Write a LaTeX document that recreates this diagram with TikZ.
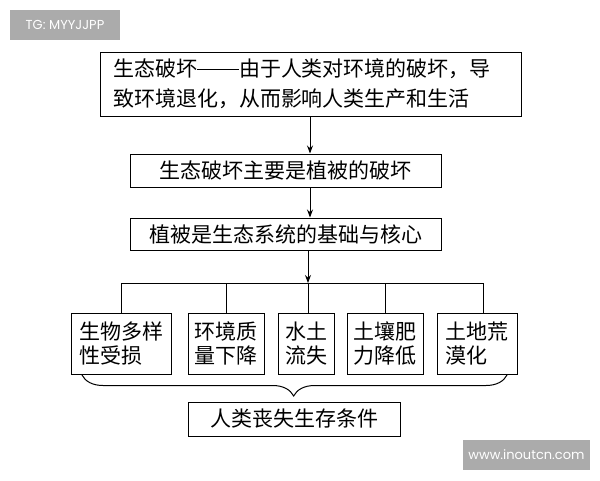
\documentclass[tikz,border=0pt]{standalone}
\usepackage{fontspec}
\setmainfont{Noto Sans CJK SC}
\newfontfamily\wmfont{Poppins}
\usetikzlibrary{arrows.meta,decorations.pathreplacing}
\newcommand{\mydash}{\rule[0.32em]{2em}{0.06em}}
\begin{document}
\begin{tikzpicture}[x=1pt,y=-1pt,
  box/.style={draw,line width=1pt,inner sep=0pt,align=left,font=\fontsize{21}{30}\selectfont},
  small/.style={box,font=\fontsize{21}{23.5}\selectfont},
  conn/.style={line width=1pt},
  arr/.style={conn,-{Stealth[length=8pt,width=6pt]}},
  wm/.style={fill=black!33,text=white,inner sep=0pt,font=\wmfont\fontsize{13}{14}\selectfont}]
\useasboundingbox[fill=white] (0,0) rectangle (600,480);
% watermarks
\node[wm,minimum width=110,minimum height=30] (wm1) at (65,25) {TG: MYYJJPP};
\node[wm,minimum width=127,minimum height=30] (wm2) at (526.5,455) {www.inoutcn.com};
% boxes
\node[box,minimum width=421,minimum height=64,text width=395] (top) at (310.5,84)
  {生态破坏\mydash 由于人类对环境的破坏，导\\致环境退化，从而影响人类生产和生活};
\node[box,minimum width=311,minimum height=33] (b2) at (285.5,170.5) {生态破坏主要是植被的破坏};
\node[box,minimum width=311,minimum height=32] (b3) at (285.5,234) {植被是生态系统的基础与核心};
\node[small,minimum width=100,minimum height=61] (c1) at (121,343.5) {生物多样\\性受损};
\node[small,minimum width=76,minimum height=61] (c2) at (226,343.5) {环境质\\量下降};
\node[small,minimum width=56,minimum height=61] (c3) at (306,343.5) {水土\\流失};
\node[small,minimum width=76,minimum height=61] (c4) at (385,343.5) {土壤肥\\力降低};
\node[small,minimum width=80,minimum height=61] (c5) at (477,343.5) {土地荒\\漠化};
\node[box,minimum width=212,minimum height=34] (last) at (294,419) {人类丧失生存条件};
% connectors
\coordinate (ax) at (310,0);
\coordinate (bx) at (308,283);
\coordinate (bl) at (121,283);
\coordinate (br) at (483,283);
\draw[arr] (top.south -| ax) -- (b2.north -| ax);
\draw[arr] (b2.south -| ax) -- (b3.north -| ax);
\draw[arr] (b3.south -| bx) -- (bx);
\draw[conn] (c1.north) -- (bl) -- (br) -- (c5.north -| br);
\draw[conn] (c2.north) -- (c2.north |- bx);
\draw[conn] (c3.north -| bx) -- (bx);
\draw[conn] (c4.north) -- (c4.north |- bx);
% brace
\coordinate (brl) at (82,375);
\coordinate (brr) at (507,375);
\draw[conn,decorate,decoration={brace,mirror,amplitude=21pt,aspect=0.498}] (brl) -- (brr);
\end{tikzpicture}
\end{document}
